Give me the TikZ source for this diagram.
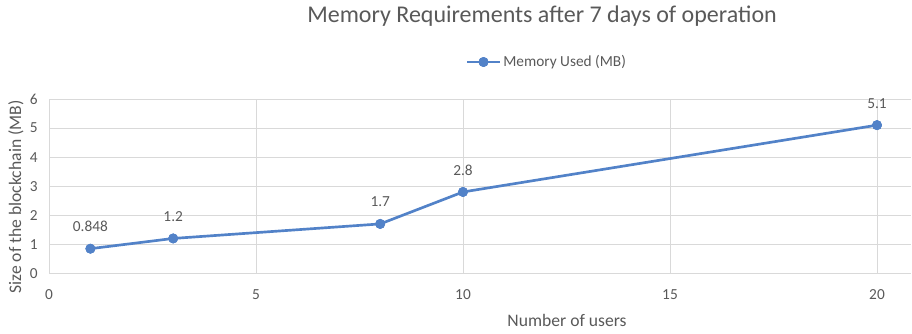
\documentclass[tikz,border=0pt]{standalone}
\usepackage{fontspec}
\setmainfont{Carlito}
\definecolor{txt}{HTML}{595959}
\definecolor{gridc}{HTML}{D9D9D9}
\definecolor{ser}{HTML}{5282C8}
\begin{document}
\begin{tikzpicture}[x=0.75pt,y=-0.75pt,
  lab/.style={text=txt,font=\fontsize{11.5}{13}\selectfont,inner sep=0pt},
  axt/.style={text=txt,font=\fontsize{13.2}{15}\selectfont,inner sep=0pt},
  gridline/.style={draw=gridc,line width=0.75pt},
  mk/.style={circle,fill=ser,draw=ser,minimum size=7pt,inner sep=0pt},
  serline/.style={draw=ser,line width=2pt}]
\useasboundingbox (0,0) rectangle (912,333);
% gridlines
\foreach \v in {0,...,6}{
  \draw[gridline] (49,{273.3-29.05*\v}) -- (911,{273.3-29.05*\v});
  \node[lab,anchor=east] at (38,{273.3-29.05*\v}) {\v};
}
\draw[gridline] (49,99) -- (49,273.3);
\foreach \u in {5,10,15,20}{
  \draw[gridline] ({49+41.4*\u},99) -- ({49+41.4*\u},273.3);
}
\foreach \u in {0,5,...,20}{
  \node[lab] at ({49+41.4*\u},295) {\u};
}
% title
\node[text=txt,font=\fontsize{18}{21}\selectfont,inner sep=0pt] (title) at (542,16) {Memory Requirements after 7 days of operation};
% legend
\coordinate (la) at (467,62);
\coordinate (lb) at (500,62);
\draw[serline] (la) -- (lb);
\node[mk] (lm) at (483.5,62) {};
\node[lab,anchor=west] (legend) at (503,62) {Memory Used (MB)};
% axis titles
\node[axt,rotate=90] (ytitle) at (16,197) {Size of the blockchain (MB)};
\node[axt] (xtitle) at (567,320) {Number of users};
% data
\foreach \i/\u/\v in {1/1/0.848,2/3/1.2,3/8/1.7,4/10/2.8,5/20/5.1}{
  \node[mk] (p\i) at ({49+41.4*\u},{273.3-29.05*\v}) {};
  \node[lab] (l\i) at ({49+41.4*\u},{273.3-29.05*\v-22}) {\v};
}
\draw[serline] (p1.center) -- (p2.center) -- (p3.center) -- (p4.center) -- (p5.center);
\foreach \i in {1,...,5}{ \node[mk] at (p\i) {}; }
\node[mk] at (lm) {};
\end{tikzpicture}
\end{document}
